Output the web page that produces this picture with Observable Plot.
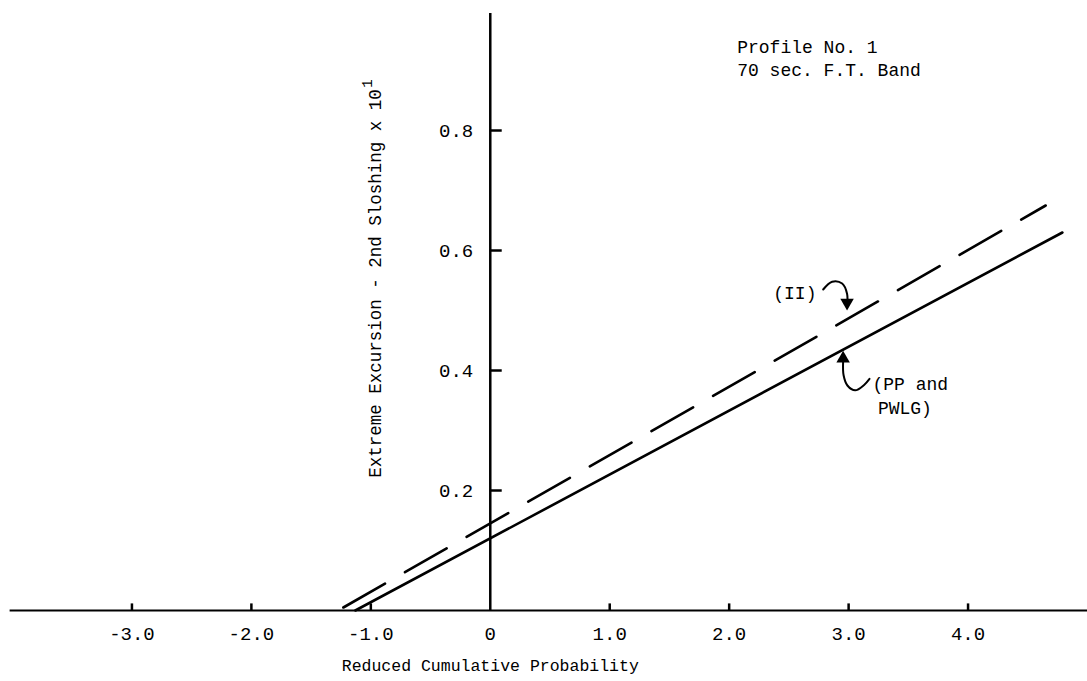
<!DOCTYPE html>
<html>
<head>
<meta charset="utf-8">
<script src="https://cdn.jsdelivr.net/npm/d3@7"></script>
<script src="https://cdn.jsdelivr.net/npm/@observablehq/plot@0.6"></script>
<style>
  html, body { margin: 0; padding: 0; background: #fff; }
  svg { display: block; }
</style>
</head>
<body>
<div id="chart"></div>
<script>
// Tick values and labels
const xTicks = [-3, -2, -1, 1, 2, 3, 4];
const xTickLabels = ["-3.0", "-2.0", "-1.0", "0", "1.0", "2.0", "3.0", "4.0"];
const xTickLabelValues = [-3, -2, -1, 0, 1, 2, 3, 4];
const yTicks = [0.2, 0.4, 0.6, 0.8];
const yTickLabels = ["0.2", "0.4", "0.6", "0.8"];

// Series: PP and PWLG (solid), II (dashed)
const solidX = [-1.13, 4.79];
const solidY = [0.0, 0.63];
const dashedX = [-1.23, 4.65];
const dashedY = [0.005, 0.675];

// Annotation arrows (data coordinates)
const arrowIIx = [2.787, 2.862, 2.946, 2.987, 2.987];
const arrowIIy = [0.535, 0.548, 0.545, 0.528, 0.505];
const arrowPPx = [2.954, 2.958, 2.990, 3.055, 3.130, 3.175];
const arrowPPy = [0.415, 0.392, 0.375, 0.367, 0.376, 0.386];
const headX = [2.987, 2.954];
const headY = [0.513, 0.42];
const headRot = [180, 0];

const solid = solidX.map((x, i) => ({x, y: solidY[i]}));
const dashed = dashedX.map((x, i) => ({x, y: dashedY[i]}));
const arrII = arrowIIx.map((x, i) => ({x, y: arrowIIy[i]}));
const arrPP = arrowPPx.map((x, i) => ({x, y: arrowPPy[i]}));
const heads = headX.map((x, i) => ({x, y: headY[i], r: headRot[i]}));
const xLab = xTickLabelValues.map((v, i) => ({v, t: xTickLabels[i]}));
const yLab = yTicks.map((v, i) => ({v, t: yTickLabels[i]}));

const FONT = "'Liberation Mono', 'DejaVu Sans Mono', monospace";

const chart = Plot.plot({
  width: 1087,
  height: 681,
  marginLeft: 12,
  marginRight: 0,
  marginTop: 10,
  marginBottom: 71,
  x: {domain: [-4, 5], axis: null},
  y: {domain: [0, 1.0], axis: null},
  style: {fontFamily: FONT, color: "#000", background: "#fff"},
  marks: [
    // axes
    Plot.ruleY([0], {x1: -4.02, x2: 5, stroke: "#000", strokeWidth: 2}),
    Plot.ruleX([0], {y1: 0, y2: 0.995, stroke: "#000", strokeWidth: 2.5}),
    Plot.ruleX(xTicks, {y1: 0, y2: 0.011, stroke: "#000", strokeWidth: 2.5}),
    Plot.ruleY(yTicks, {x1: 0, x2: 0.1, stroke: "#000", strokeWidth: 2.5}),
    Plot.text(xLab, {x: "v", y: 0, text: "t", dy: 23, fontSize: 19, fill: "#000"}),
    Plot.text(yLab, {x: 0, y: "v", text: "t", dx: -17, textAnchor: "end", fontSize: 19, fill: "#000"}),
    Plot.text(["Reduced Cumulative Probability"], {x: 0, y: 0, dy: 55, fontSize: 16.5, fill: "#000"}),
    Plot.text(["Extreme Excursion - 2nd Sloshing x 10"], {x: -0.962, y: 0.545, rotate: -90, fontSize: 17.5, fill: "#000"}),
    Plot.text(["1"], {x: -0.962, y: 0.545, dx: -8, dy: -200, rotate: -90, fontSize: 14, fill: "#000"}),
    Plot.text(["Profile No. 1"], {x: 2.067, y: 0.938, textAnchor: "start", fontSize: 18, fill: "#000", letterSpacing: 1.6}),
    Plot.text(["70 sec. F.T. Band"], {x: 2.067, y: 0.9, textAnchor: "start", fontSize: 18, fill: "#000"}),
    // data lines
    Plot.line(solid, {x: "x", y: "y", stroke: "#000", strokeWidth: 2.6}),
    Plot.line(dashed, {x: "x", y: "y", stroke: "#000", strokeWidth: 2.6, strokeDasharray: "48,23"}),
    // annotations
    Plot.text(["(II)"], {x: 2.55, y: 0.528, fontSize: 18, fill: "#000"}),
    Plot.text(["(PP and"], {x: 3.2, y: 0.377, textAnchor: "start", fontSize: 18, fill: "#000"}),
    Plot.text(["PWLG)"], {x: 3.245, y: 0.337, textAnchor: "start", fontSize: 18, fill: "#000"}),
    Plot.line(arrII, {x: "x", y: "y", curve: "catmull-rom", stroke: "#000", strokeWidth: 2}),
    Plot.line(arrPP, {x: "x", y: "y", curve: "catmull-rom", stroke: "#000", strokeWidth: 2}),
    Plot.dot(heads, {x: "x", y: "y", rotate: "r", symbol: "triangle", r: 5, fill: "#000", stroke: "none"})
  ]
});
document.getElementById("chart").appendChild(chart);
</script>
</body>
</html>
